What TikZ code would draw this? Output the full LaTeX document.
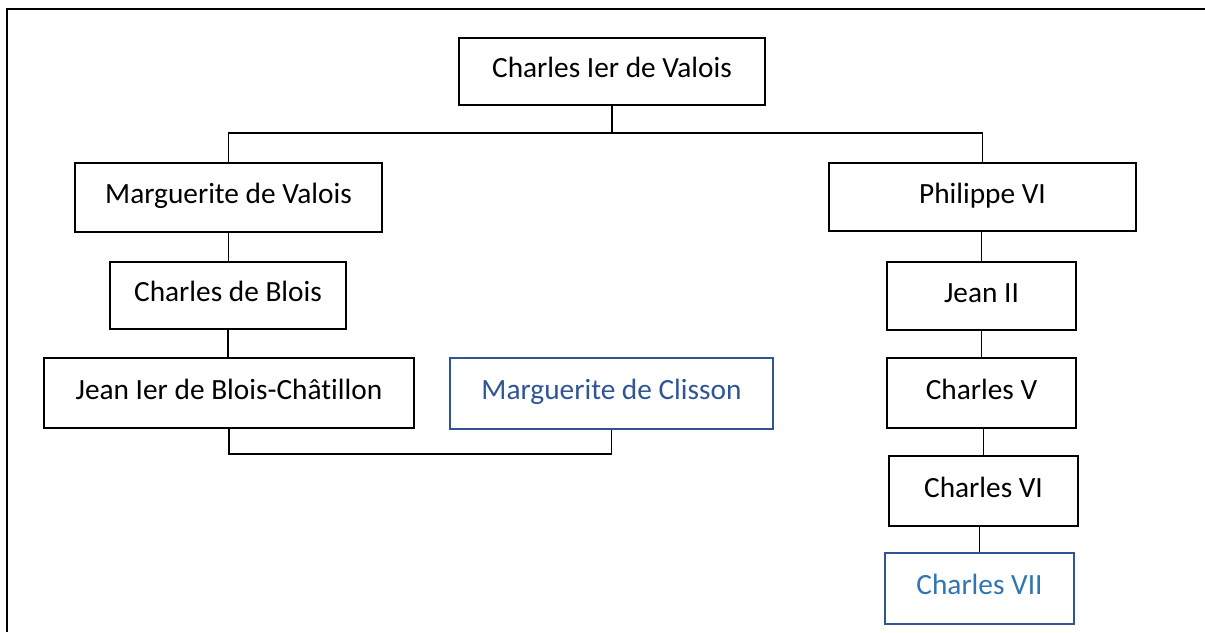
\documentclass[tikz,border=0pt]{standalone}
\usepackage{fontspec}
\setmainfont{Carlito}[Ligatures=NoCommon]
\definecolor{boxblue}{HTML}{2F5597}
\definecolor{txtblue}{HTML}{2F5597}
\definecolor{txtblue2}{HTML}{2E75B6}
\begin{document}
\begin{tikzpicture}[x=0.75pt,y=-0.75pt,
  person/.style={draw=black,line width=1.5pt,rectangle,inner sep=0pt,
    font=\fontsize{22}{26}\selectfont,text height=0.94em,text depth=0pt},
  blueperson/.style={person,draw=boxblue},
  link/.style={draw=black,line width=0.8pt},
  frame/.style={draw=black,line width=1.4pt}]
\useasboundingbox (0,0) rectangle (1205,632);
\draw[frame] (7,632) -- (7,9) -- (1205,9);

\node[person,minimum width=306*0.75pt,minimum height=67*0.75pt] (top) at (612,71.5) {Charles Ier de Valois};
\node[person,minimum width=307*0.75pt,minimum height=69*0.75pt] (mv) at (228.5,197.5) {Marguerite de Valois};
\node[person,minimum width=307*0.75pt,minimum height=68*0.75pt] (ph) at (982.5,197) {Philippe VI};
\node[person,minimum width=236*0.75pt,minimum height=67*0.75pt] (cb) at (228,295.5) {Charles de Blois};
\node[person,minimum width=189*0.75pt,minimum height=68*0.75pt] (j2) at (981.5,296) {Jean II};
\node[person,minimum width=370*0.75pt,minimum height=70*0.75pt] (jb) at (229,393) {Jean Ier de Blois-Châtillon};
\node[blueperson,text=txtblue,minimum width=323*0.75pt,minimum height=71*0.75pt] (mc) at (611.5,393.5) {Marguerite de Clisson};
\node[person,minimum width=189*0.75pt,minimum height=70*0.75pt] (c5) at (981.5,393) {Charles V};
\node[person,minimum width=189*0.75pt,minimum height=70*0.75pt] (c6) at (983.5,491) {Charles VI};
\node[blueperson,text=txtblue2,minimum width=189*0.75pt,minimum height=71*0.75pt] (c7) at (979.5,588.5) {Charles VII};

\coordinate (barT) at (0,133);
\coordinate (barB) at (0,454);

\draw[link] (top.south) -- (top.south |- barT);
\draw[link] (mv.north) -- (mv.north |- barT) -- (ph.north |- barT) -- (ph.north);
\draw[link] (mv.south) -- (mv.south |- cb.north);
\draw[link] (cb.south) -- (cb.south |- jb.north);
\draw[link] (jb.south) -- (jb.south |- barB) -- (mc.south |- barB) -- (mc.south);
\draw[link] (j2.north) -- (j2.north |- ph.south);
\draw[link] (j2.south) -- (j2.south |- c5.north);
\draw[link] ([xshift=1.5pt]c5.south) -- ([xshift=1.5pt]c5.south |- c6.north);
\draw[link] (c7.north) -- (c7.north |- c6.south);
\end{tikzpicture}
\end{document}
